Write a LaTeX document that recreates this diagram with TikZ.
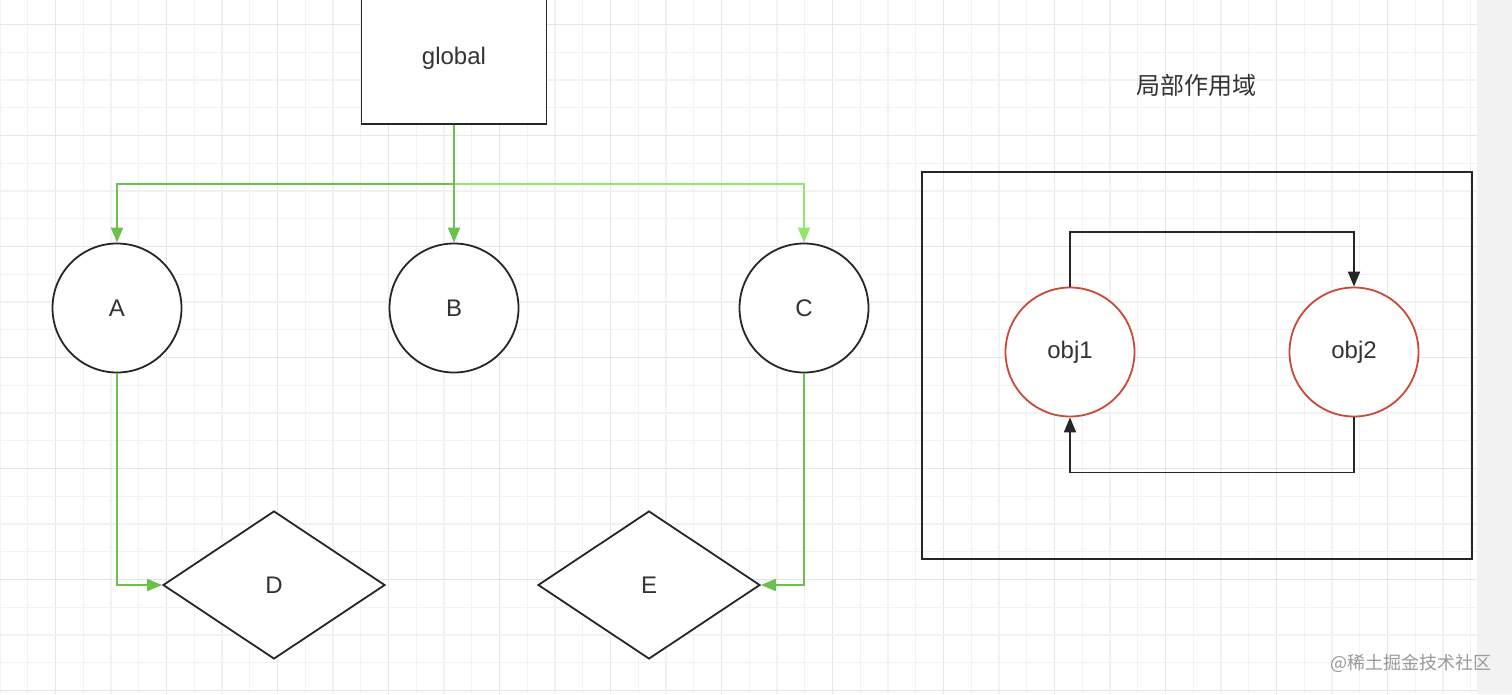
\documentclass[tikz,border=0pt]{standalone}
\usepackage{fontspec}
\setmainfont{Liberation Sans}
\newfontfamily\cjk{Noto Sans CJK SC}
\usetikzlibrary{ arrows.meta,      % For Triangle tips
                 shapes.geometric, % For diamond
                 positioning,      % For easy node-relative placements
               }
\definecolor{gridminor}{HTML}{F2F2F2}
\definecolor{gridmajor}{HTML}{E6E6E6}
\definecolor{edgegreen}{RGB}{108,192,76}
\definecolor{lightgreen}{RGB}{145,232,104}
\definecolor{objred}{RGB}{204,72,56}
\definecolor{inkgray}{HTML}{333333}

\begin{document}
\begin{tikzpicture}[x=1pt, y=-1pt,
    every node/.style={font=\fontsize{24}{28}\selectfont, text=inkgray},
    outline/.style={draw=black!85, line width=1.8pt, fill=white},
    roundnode/.style={outline, circle, minimum size=129pt, inner sep=0pt},
    objnode/.style={roundnode, draw=objred},
    decision/.style={outline, diamond, minimum width=222pt, minimum height=148pt, inner sep=0pt},
    greenarrow/.style={draw=edgegreen, line width=1.8pt, -{Triangle[length=15pt,width=12pt]}},
    blackarrow/.style={draw=black!85, line width=1.8pt, -{Triangle[length=15pt,width=12pt]}}]
  \useasboundingbox (0,0) rectangle (1512,694);
  \clip (0,0) rectangle (1512,694);
  % paper + grid
  \fill[white] (0,0) rectangle (1512,694);
  \fill[black!5] (1477,0) rectangle (1512,694);
  \foreach \i in {-2,...,51}{
    \pgfmathtruncatemacro\m{mod(\i+8,4)}
    \ifnum\m=0 \def\gc{gridmajor}\else\def\gc{gridminor}\fi
    \draw[\gc, line width=1.3pt] ({55.5+27.75*\i},0) -- ({55.5+27.75*\i},694);
  }
  \foreach \i in {0,...,24}{
    \pgfmathtruncatemacro\m{mod(\i,4)}
    \ifnum\m=0 \def\gc{gridmajor}\else\def\gc{gridminor}\fi
    \draw[\gc, line width=1.3pt] (0,{24.5+27.75*\i}) -- (1477,{24.5+27.75*\i});
  }

  \node[outline, minimum width=185pt, minimum height=132pt] (glob) at (454,58) {global};

  \node[roundnode] (circ_a) at (117,308) {A};
  \node[roundnode] (circ_b) at (454,308) {B};
  \node[roundnode] (circ_c) at (804,308) {C};

  \node[decision] (dia_d) at (274,585) {D};
  \node[decision] (dia_e) at (649,585) {E};

  \node (local_title) at (1196,85) {\cjk 局部作用域};
  \node[draw=black!85, line width=1.8pt, minimum width=550pt, minimum height=387pt] (local_box) at (1197,365.5) {};
  \node[objnode] (obj_one) at (1070,352) {obj1};
  \node[objnode] (obj_two) at (1354,352) {obj2};

  \node[text=black!40, font=\cjk\fontsize{18}{20}\selectfont] (watermark) at (1411,663) {@稀土掘金技术社区};

  \coordinate (split) at (454,184);
  \draw[greenarrow, draw=lightgreen] (split) -| (circ_c.north);
  \draw[greenarrow] (glob.south) -- (split) -| (circ_a.north);
  \draw[greenarrow] (split) -- (circ_b.north);
  \draw[greenarrow] (circ_a.south) |- (dia_d.west);
  \draw[greenarrow] (circ_c.south) |- (dia_e.east);

  \draw[blackarrow] (obj_one.north) -- ++(0,-55) -| (obj_two.north);
  \draw[blackarrow] (obj_two.south) -- ++(0,55) -| (obj_one.south);
\end{tikzpicture}
\end{document}
